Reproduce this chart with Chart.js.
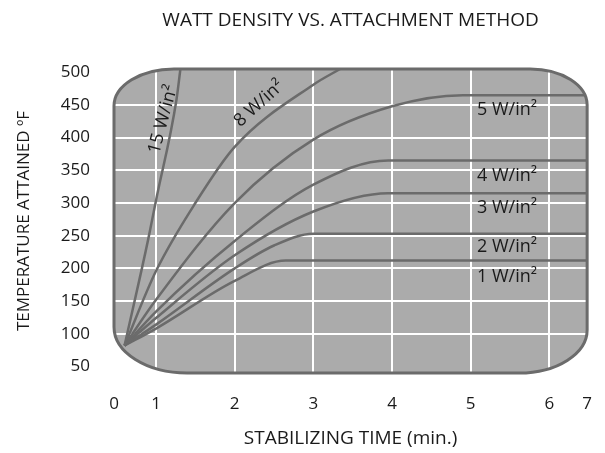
<!DOCTYPE html>
<html>
<head>
<meta charset="utf-8">
<script src="https://cdn.jsdelivr.net/npm/chart.js@4/dist/chart.umd.min.js"></script>
<style>
  html, body { margin: 0; padding: 0; background: #fff; }
  #wrap { width: 605px; height: 453px; }
</style>
</head>
<body>
<div id="wrap"><canvas id="chart" width="605" height="453"></canvas></div>
<script>
// axis ticks (x labels sit at the plot edges for 0 and 7)
const xTickPos = [0.466, 1, 2, 3, 4, 5, 6, 6.48];
const xTickLabels = ['0', '1', '2', '3', '4', '5', '6', '7'];
const yTickLabels = [50, 100, 150, 200, 250, 300, 350, 400, 450, 500];
const xGrid = [1, 2, 3, 4, 5, 6];
const yGrid = [100, 150, 200, 250, 300, 350, 400, 450];

// curves: time (min.) / temperature (F)
const t15 = [0.6, 0.9, 1.0, 1.26, 1.31];
const temp15 = [82, 244, 304, 458, 505];
const t8 = [0.6, 1, 1.5, 2, 3, 3.34];
const temp8 = [82, 196, 300, 386, 481, 505];
const t5 = [0.6, 1, 2, 3, 4, 4.9, 6.48];
const temp5 = [82, 152, 300, 397, 448, 465, 465];
const t4 = [0.6, 1, 2, 3, 3.95, 6.48];
const temp4 = [82, 134, 242, 328, 365, 365];
const t3 = [0.6, 1, 2, 3, 3.95, 6.48];
const temp3 = [82, 124, 220, 287, 315, 315];
const t2 = [0.6, 1, 2, 2.5, 3, 6.48];
const temp2 = [82, 114, 200, 235, 253, 253];
const t1 = [0.6, 1, 2, 2.65, 6.48];
const temp1 = [82, 108, 181, 212, 212];

const curveNames = ['15 W/in²', '8 W/in²', '5 W/in²', '4 W/in²', '3 W/in²', '2 W/in²', '1 W/in²'];
const curveT = [t15, t8, t5, t4, t3, t2, t1];
const curveTemp = [temp15, temp8, temp5, temp4, temp3, temp2, temp1];

// where each curve label sits (data coords) and its angle
const labelX = [1.09, 2.31, 5.08, 5.08, 5.08, 5.08, 5.08];
const labelY = [428, 452, 443, 341, 293, 233, 187];
const labelAngle = [-75, -42, 0, 0, 0, 0, 0];

const FONT = "'Open Sans', sans-serif";
const lineColor = '#6b6b6b';

function roundedPath(ctx, a) {
    const l = a.left, r = a.right, t = a.top, b = a.bottom;
    const tl = [60, 37], tr = [57, 36], br = [68, 43], bl = [73, 46];
    ctx.beginPath();
    ctx.moveTo(l + tl[0], t);
    ctx.lineTo(r - tr[0], t);
    ctx.ellipse(r - tr[0], t + tr[1], tr[0], tr[1], 0, -Math.PI / 2, 0);
    ctx.lineTo(r, b - br[1]);
    ctx.ellipse(r - br[0], b - br[1], br[0], br[1], 0, 0, Math.PI / 2);
    ctx.lineTo(l + bl[0], b);
    ctx.ellipse(l + bl[0], b - bl[1], bl[0], bl[1], 0, Math.PI / 2, Math.PI);
    ctx.lineTo(l, t + tl[1]);
    ctx.ellipse(l + tl[0], t + tl[1], tl[0], tl[1], 0, Math.PI, Math.PI * 1.5);
    ctx.closePath();
}

const panel = {
    id: 'panel',
    beforeDatasetsDraw(chart) {
        const ctx = chart.ctx, a = chart.chartArea;
        const xs = chart.scales.x, ys = chart.scales.y;
        ctx.save();
        roundedPath(ctx, a);
        ctx.fillStyle = '#ababab';
        ctx.fill();
        ctx.clip();
        ctx.strokeStyle = '#ffffff';
        ctx.lineWidth = 2;
        xGrid.forEach(v => {
            const px = Math.round(xs.getPixelForValue(v));
            ctx.beginPath();
            ctx.moveTo(px, a.top);
            ctx.lineTo(px, a.bottom);
            ctx.stroke();
        });
        yGrid.forEach(v => {
            const py = Math.round(ys.getPixelForValue(v));
            ctx.beginPath();
            ctx.moveTo(a.left, py);
            ctx.lineTo(a.right, py);
            ctx.stroke();
        });
        // keep the clip on for the curves
    },
    afterDatasetsDraw(chart) {
        const ctx = chart.ctx, a = chart.chartArea;
        const xs = chart.scales.x, ys = chart.scales.y;
        ctx.restore();
        ctx.save();
        roundedPath(ctx, a);
        ctx.strokeStyle = lineColor;
        ctx.lineWidth = 3;
        ctx.stroke();
        ctx.restore();

        ctx.save();
        ctx.fillStyle = '#1a1a1a';
        ctx.font = '18px ' + FONT;
        ctx.textBaseline = 'middle';
        curveNames.forEach((name, i) => {
            const px = xs.getPixelForValue(labelX[i]);
            const py = ys.getPixelForValue(labelY[i]);
            ctx.save();
            ctx.translate(px, py);
            ctx.rotate(labelAngle[i] * Math.PI / 180);
            ctx.textAlign = labelAngle[i] ? 'center' : 'left';
            ctx.fillText(name, 0, 0);
            ctx.restore();
        });
        ctx.restore();
    }
};

const datasets = curveNames.map((name, i) => ({
    label: name,
    data: curveT[i].map((t, j) => ({ x: t, y: curveTemp[i][j] })),
    borderColor: lineColor,
    borderWidth: 2.5,
    pointRadius: 0,
    fill: false,
    cubicInterpolationMode: 'monotone',
    clip: false
}));

new Chart(document.getElementById('chart').getContext('2d'), {
    type: 'line',
    data: { datasets: datasets },
    options: {
        responsive: false,
        animation: false,
        events: [],
        layout: { padding: { left: 0, right: 11, top: 0, bottom: 0 } },
        plugins: {
            legend: { display: false },
            tooltip: { enabled: false },
            title: {
                display: true,
                fullSize: false,
                text: 'WATT DENSITY VS. ATTACHMENT METHOD',
                color: '#1a1a1a',
                font: { family: FONT, size: 19, weight: 'normal' },
                padding: { top: 9, bottom: 37.2 }
            }
        },
        scales: {
            x: {
                type: 'linear',
                min: xTickPos[0],
                max: xTickPos[xTickPos.length - 1],
                grid: { display: false },
                border: { display: false },
                afterBuildTicks: s => { s.ticks = xTickPos.map(v => ({ value: v })); },
                afterFit: s => { s.height = 80; },
                ticks: {
                    autoSkip: false,
                    maxRotation: 0,
                    padding: 13,
                    color: '#1a1a1a',
                    font: { family: FONT, size: 17 },
                    callback: (v, i) => xTickLabels[i]
                },
                title: {
                    display: true,
                    text: 'STABILIZING TIME (min.)',
                    color: '#1a1a1a',
                    font: { family: FONT, size: 19 },
                    padding: { top: 0, bottom: 3 }
                }
            },
            y: {
                type: 'linear',
                min: 40,
                max: 505,
                grid: { display: false },
                border: { display: false },
                afterBuildTicks: s => { s.ticks = yTickLabels.map(v => ({ value: v })); },
                afterFit: s => { s.width = 114; },
                ticks: {
                    autoSkip: false,
                    padding: 16,
                    color: '#1a1a1a',
                    font: { family: FONT, size: 17 }
                },
                title: {
                    display: true,
                    text: 'TEMPERATURE ATTAINED ºF',
                    color: '#1a1a1a',
                    font: { family: FONT, size: 17 },
                    padding: { top: 14, bottom: 0 }
                }
            }
        }
    },
    plugins: [panel]
});
</script>
</body>
</html>
